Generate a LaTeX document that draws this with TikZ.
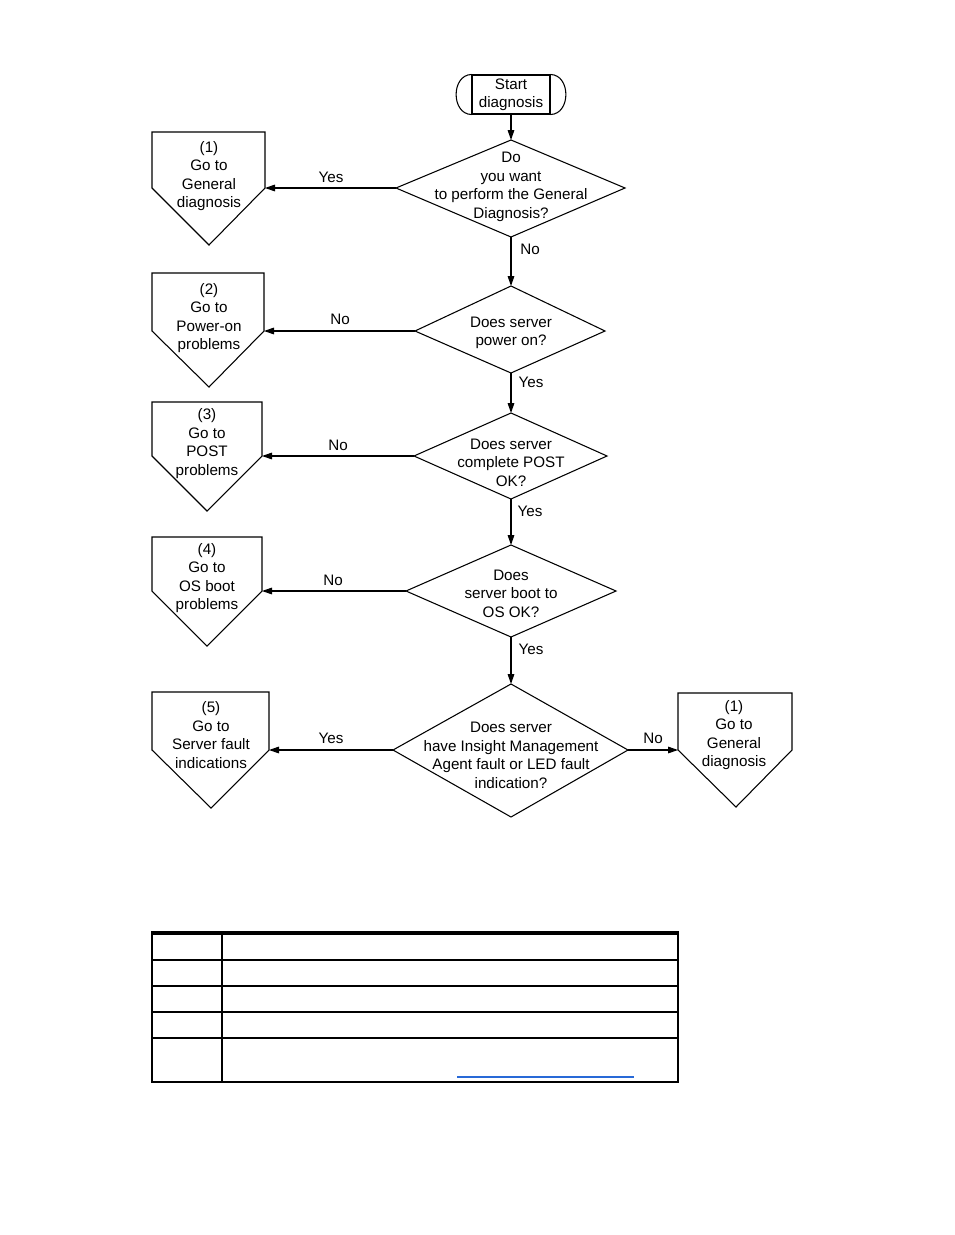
\documentclass[tikz,border=0pt]{standalone}
\usepackage{fontspec}
\setmainfont{Liberation Sans}
\usetikzlibrary{arrows.meta}
\newcommand\lbfont{\fontsize{11.4}{13.9}\selectfont}
\newcommand\mkdia[6]{%
  \coordinate (#1-t) at (511,#2);
  \coordinate (#1-l) at (#3,#5);
  \coordinate (#1-r) at (#4,#5);
  \coordinate (#1-b) at (511,#6);
  \draw[shp] (#1-t) -- (#1-r) -- (#1-b) -- (#1-l) -- cycle;}
\newcommand\mkoff[7]{% name, left, right, top, side y, tip x, tip y
  \coordinate (#1-tl) at (#2,#4);
  \coordinate (#1-tr) at (#3,#4);
  \coordinate (#1-rc) at (#3,#5);
  \coordinate (#1-tip) at (#6,#7);
  \coordinate (#1-lc) at (#2,#5);
  \draw[shp] (#1-tl) -- (#1-tr) -- (#1-rc) -- (#1-tip) -- (#1-lc) -- cycle;}
\begin{document}
\begin{tikzpicture}[x=0.75pt,y=-0.75pt,
  shp/.style={line width=0.8pt, line join=miter},
  arr/.style={line width=0.8pt, -{Triangle[length=7.5pt,width=5pt]}},
  lbl/.style={font=\lbfont, inner sep=0pt},
  txt/.style={align=center, font=\lbfont, inner sep=0pt},
  tline/.style={line width=1.5pt},
  ]
\useasboundingbox (0,0) rectangle (954,1235);

% start terminator
\node[draw, line width=0.8pt, minimum width=58.5pt, minimum height=29.25pt, inner sep=0pt] (start) at (511,94.5) {};
\node[txt] (starttxt) at (511,95) {Start\\diagnosis};
\draw[shp] (start.north west) .. controls (451,75) and (451,114) .. (start.south west);
\draw[shp] (start.north east) .. controls (571,75) and (571,114) .. (start.south east);

% diamonds
\mkdia{d1}{140}{396}{625}{188}{237}
\mkdia{d2}{286}{415}{605}{331}{373}
\mkdia{d3}{413}{414}{607}{456}{499}
\mkdia{d4}{545}{406}{616}{591}{637}
\mkdia{d5}{684}{393}{628}{750}{817}
\node[txt] (t1) at (511,187) {Do\\you want\\to perform the General\\Diagnosis?};
\node[txt] (t2) at (511,333) {Does server\\power on?};
\node[txt] (t3) at (511,462.5) {Does server\\complete POST\\OK?};
\node[txt] (t4) at (511,593.5) {Does\\server boot to\\OS OK?};
\node[txt] (t5) at (511,755.5) {Does server\\have Insight Management\\Agent fault or LED fault\\indication?};

% off-page connectors
\mkoff{o1}{152}{265}{132}{188}{209}{245}
\mkoff{o2}{152}{264}{273}{331}{209}{387}
\mkoff{o3}{152}{262}{402}{456}{207}{511}
\mkoff{o4}{152}{262}{537}{591}{207}{646}
\mkoff{o5}{152}{269}{692}{750}{211}{808}
\mkoff{o6}{678}{792}{693}{750}{736}{807}
\node[txt] (ot1) at (209,176) {(1)\\Go to\\General\\diagnosis};
\node[txt] (ot2) at (209,318) {(2)\\Go to\\Power-on\\problems};
\node[txt] (ot3) at (207,443.5) {(3)\\Go to\\POST\\problems};
\node[txt] (ot4) at (207,578) {(4)\\Go to\\OS boot\\problems};
\node[txt] (ot5) at (211,735) {(5)\\Go to\\Server fault\\indications};
\node[txt] (ot6) at (734,735) {(1)\\Go to\\General\\diagnosis};

% connectors
\draw[arr] (start.south) -- (d1-t);
\draw[arr] (d1-l) -- (o1-rc);
\draw[arr] (d1-b) -- (d2-t);
\draw[arr] (d2-l) -- (o2-rc);
\draw[arr] (d2-b) -- (d3-t);
\draw[arr] (d3-l) -- (o3-rc);
\draw[arr] (d3-b) -- (d4-t);
\draw[arr] (d4-l) -- (o4-rc);
\draw[arr] (d4-b) -- (d5-t);
\draw[arr] (d5-l) -- (o5-rc);
\draw[arr] (d5-r) -- (o6-lc);

% labels
\node[lbl] (l1) at (331,177) {Yes};
\node[lbl] (l2) at (530,249) {No};
\node[lbl] (l3) at (340,319) {No};
\node[lbl] (l4) at (531,382) {Yes};
\node[lbl] (l5) at (338,445) {No};
\node[lbl] (l6) at (530,511) {Yes};
\node[lbl] (l7) at (333,580) {No};
\node[lbl] (l8) at (531,649) {Yes};
\node[lbl] (l9) at (331,738) {Yes};
\node[lbl] (l10) at (653,738) {No};

% table
\draw[tline] (152,933) rectangle (678,1082);
\draw[line width=2.4pt] (151,933) -- (679,933);
\foreach \yy in {960,986,1012,1038} \draw[tline] (152,\yy) -- (678,\yy);
\draw[tline] (222,933) -- (222,1082);
\definecolor{linkblue}{RGB}{40,105,215}
\draw[line width=1pt, linkblue] (457,1077) -- (634,1077);
\end{tikzpicture}
\end{document}
